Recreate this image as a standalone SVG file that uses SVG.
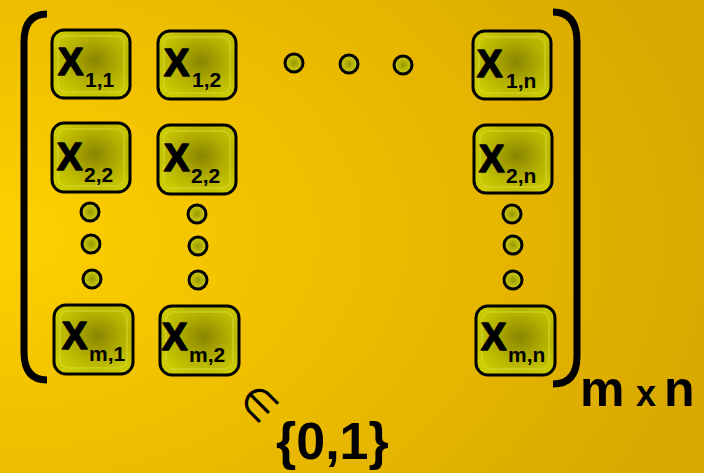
<svg xmlns="http://www.w3.org/2000/svg" width="704" height="473" viewBox="0 0 704 473">
<defs>
<radialGradient id="bg" cx="0" cy="0.5" r="1.05" gradientUnits="objectBoundingBox">
<stop offset="0" stop-color="#ffd000"/>
<stop offset="0.5" stop-color="#ecbc00"/>
<stop offset="1" stop-color="#d8a800"/>
</radialGradient>
<radialGradient id="cell" cx="0.55" cy="0.45" r="0.6">
<stop offset="0" stop-color="#8a8500"/>
<stop offset="0.55" stop-color="#b4b000"/>
<stop offset="1" stop-color="#cccc00"/>
</radialGradient>
<radialGradient id="dot" cx="0.5" cy="0.5" r="0.5">
<stop offset="0" stop-color="#9a9800"/>
<stop offset="1" stop-color="#cfcf10"/>
</radialGradient>
<style>
.box{fill:url(#cell);stroke:#000;stroke-width:3}
.inner{fill:none;stroke:#d8d830;stroke-opacity:0.5;stroke-width:2}
.dot{fill:url(#dot);stroke:#000;stroke-width:3}
.X{font-family:"Liberation Sans",Arial,sans-serif;font-weight:bold;font-size:38px;fill:#000;stroke:#000;stroke-width:1.6;stroke-linejoin:round}
.sub{font-family:"Liberation Sans",Arial,sans-serif;font-weight:bold;font-size:21px;fill:#000}
.br{fill:none;stroke:#000;stroke-width:7}
.big{font-family:"Liberation Sans",Arial,sans-serif;font-weight:bold;fill:#000}
</style>
</defs>
<rect width="704" height="473" fill="url(#bg)"/>

<g id="brackets">
<path class="br" d="M47 14 Q24 14 24 42 L24 352 Q24 380 47 380"/>
<path class="br" d="M553 12 Q577 12 577 42 L577 356 Q577 384 553 384"/>
</g>

<g id="x11"><rect class="box" x="52" y="30" width="78" height="68" rx="12"/><rect class="inner" x="58" y="36" width="66" height="56" rx="8"/><text class="X" x="58" y="75">X</text><text class="sub" x="85" y="87">1,1</text></g>
<g id="x12"><rect class="box" x="158" y="31" width="78" height="68" rx="12"/><rect class="inner" x="164" y="37" width="66" height="56" rx="8"/><text class="X" x="164" y="76">X</text><text class="sub" x="192" y="87">1,2</text></g>
<g id="x1n"><rect class="box" x="473" y="31" width="78" height="68" rx="12"/><rect class="inner" x="479" y="37" width="66" height="56" rx="8"/><text class="X" x="477" y="77">X</text><text class="sub" x="506" y="88">1,n</text></g>
<g id="x21"><rect class="box" x="52" y="123" width="78" height="69" rx="12"/><rect class="inner" x="58" y="129" width="66" height="57" rx="8"/><text class="X" x="57" y="170">X</text><text class="sub" x="84" y="182">2,2</text></g>
<g id="x22"><rect class="box" x="158" y="125" width="78" height="69" rx="12"/><rect class="inner" x="164" y="131" width="66" height="57" rx="8"/><text class="X" x="164" y="171">X</text><text class="sub" x="191" y="183">2,2</text></g>
<g id="x2n"><rect class="box" x="474" y="125" width="78" height="68" rx="12"/><rect class="inner" x="480" y="131" width="66" height="56" rx="8"/><text class="X" x="479" y="172">X</text><text class="sub" x="506" y="183">2,n</text></g>
<g id="xm1"><rect class="box" x="54" y="305" width="79" height="69" rx="12"/><rect class="inner" x="60" y="311" width="67" height="57" rx="8"/><text class="X" x="62" y="349">X</text><text class="sub" x="89" y="361">m,1</text></g>
<g id="xm2"><rect class="box" x="160" y="306" width="79" height="69" rx="12"/><rect class="inner" x="166" y="312" width="67" height="57" rx="8"/><text class="X" x="162" y="350">X</text><text class="sub" x="189" y="362">m,2</text></g>
<g id="xmn"><rect class="box" x="476" y="306" width="79" height="69" rx="12"/><rect class="inner" x="482" y="312" width="67" height="57" rx="8"/><text class="X" x="481" y="350">X</text><text class="sub" x="508" y="362">m,n</text></g>

<g id="dots">
<circle class="dot" cx="294" cy="63" r="9"/>
<circle class="dot" cx="349" cy="64" r="9"/>
<circle class="dot" cx="403" cy="65" r="9"/>
<circle class="dot" cx="90" cy="212" r="9"/>
<circle class="dot" cx="91" cy="244" r="9"/>
<circle class="dot" cx="92" cy="279" r="9"/>
<circle class="dot" cx="197" cy="214" r="9"/>
<circle class="dot" cx="198" cy="246" r="9"/>
<circle class="dot" cx="198" cy="280" r="9"/>
<circle class="dot" cx="512" cy="214" r="9"/>
<circle class="dot" cx="513" cy="245" r="9"/>
<circle class="dot" cx="513" cy="280" r="9"/>
</g>

<g id="size">
<text class="big" font-size="50" x="580" y="406">m</text>
<text class="big" font-size="36" x="636" y="406">x</text>
<text class="big" font-size="50" x="664" y="406">n</text>
</g>
<g id="elem">
<text transform="translate(259,403) rotate(45)" font-family="DejaVu Sans,sans-serif" font-size="40" text-anchor="middle" dominant-baseline="central" fill="#000">∈</text>
<text class="big" font-size="52" x="276" y="459">{0,1}</text>
</g>
</svg>
